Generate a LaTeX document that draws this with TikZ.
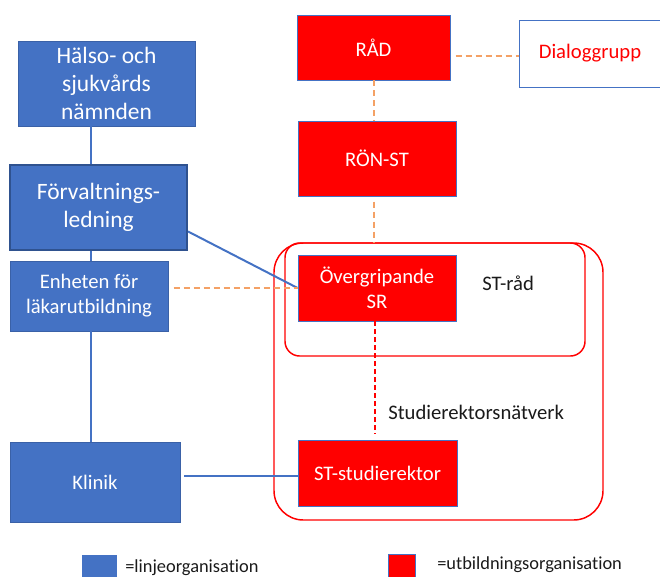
\documentclass[tikz,border=0pt]{standalone}
\usepackage{fontspec}
\setmainfont{Carlito}[Ligatures=NoCommon]
\usepackage{xcolor}
\definecolor{lineblue}{HTML}{4472C4}
\definecolor{darkblue}{HTML}{2F528F}
\definecolor{edured}{HTML}{FF0000}
\definecolor{dashorange}{HTML}{F4A165}
\definecolor{textdark}{HTML}{1A1A1A}
\usepackage{tikz}
\usetikzlibrary{positioning,calc}
\tikzset{
  bbox/.style={rectangle, draw=lineblue!85!black, line width=0.6pt, fill=lineblue,
               text=white, font=\fontsize{15.5}{18.75}\selectfont, align=center, inner sep=0pt},
  bboxl/.style={bbox, font=\fontsize{17.6}{21}\selectfont},
  rbox/.style={rectangle, draw=lineblue, line width=0.6pt, fill=edured,
               text=white, font=\fontsize{15.5}{18.75}\selectfont, align=center, inner sep=0pt},
  wbox/.style={rectangle, draw=lineblue, line width=0.6pt, fill=white,
               text=edured, font=\fontsize{15.5}{18.75}\selectfont, align=center, inner sep=0pt},
  grp/.style={rectangle, draw=edured, line width=1.1pt, inner sep=0pt},
  lline/.style={draw=lineblue, line width=1.5pt},
  odash/.style={draw=dashorange, line width=1.1pt, dash pattern=on 4.5pt off 3pt},
  rdash/.style={draw=edured, line width=1.1pt, dash pattern=on 3.5pt off 2.5pt},
  lbl/.style={font=\fontsize{15.5}{18.75}\selectfont, text=textdark, anchor=base west, inner sep=0pt},
  leg/.style={font=\fontsize{13.8}{16}\selectfont, text=textdark, anchor=base west, inner sep=0pt},
}

\begin{document}
\begin{tikzpicture}[x=0.75pt, y=-0.75pt]
  \useasboundingbox (0,0) rectangle (660,576);

  % Linjeorganisation
  \node[bboxl, minimum width=132.75pt, minimum height=63.75pt] (hsn) at (106.5,83.5) {Hälso- och\\sjukvårds\\nämnden};
  \node[bboxl, minimum width=132.75pt, minimum height=63.75pt, draw=darkblue, line width=1.6pt] (forv) at (98.5,207.5) {Förvaltnings-\\ledning};
  \node[bbox, minimum width=118.5pt, minimum height=52.5pt] (enh) at (89,296) {Enheten för\\läkarutbildning};
  \node[bbox, minimum width=127.5pt, minimum height=60pt] (klin) at (95,482) {Klinik};

  % Groups
  \node[grp, rounded corners=11pt, minimum width=225pt, minimum height=84.75pt] (strad) at (435,299.5) {};
  \node[grp, rounded corners=22pt, minimum width=246.75pt, minimum height=207.75pt] (srn) at (438.5,381.5) {};

  % Utbildningsorganisation
  \node[rbox, minimum width=114.75pt, minimum height=48.75pt] (rad) at (373.5,47.5) {RÅD};
  \node[wbox, minimum width=106.5pt, minimum height=50.25pt] (dlg) at (590,53.5) {Dialoggrupp};
  \node[rbox, minimum width=118.5pt, minimum height=56.25pt] (ron) at (377,158.5) {RÖN-ST};
  \node[rbox, minimum width=118.5pt, minimum height=49.5pt] (ovsr) at (377,288) {Övergripande\\SR};
  \node[rbox, minimum width=119.25pt, minimum height=49.5pt] (strek) at (377.5,473) {ST-studierektor};

  % Line connectors
  \draw[lline] (hsn.south -| 91,0) -- (forv.north -| 91,0);
  \draw[lline] (forv.south -| 91,0) -- (enh.north -| 91,0);
  \draw[lline] (enh.south -| 91,0) -- (klin.north -| 91,0);
  \draw[lline] ([yshift=-18pt]forv.east) -- (ovsr.west);
  \draw[lline] ([xshift=3pt]klin.east |- 0,476) -- (strek.west |- 0,476);

  % Dashed connectors
  \draw[odash] ([xshift=4pt]enh.east |- ovsr.west) -- (ovsr.west);
  \draw[odash] (rad.south -| 374,0) -- (ron.north -| 374,0);
  \draw[odash] ([xshift=4pt]rad.east |- 0,56) -- (dlg.west |- 0,56);
  \draw[odash] ([yshift=-4pt]ron.south -| 374,0) -- (strad.north -| 374,0);
  \draw[rdash] (ovsr.south -| 375,0) -- ([yshift=4pt]strek.north -| 375,0);

  % Labels
  \node[lbl] (stradlbl) at (482,290) {ST-råd};
  \node[lbl] (srnlbl) at (388,419) {Studierektorsnätverk};

  % Legend
  \node[rectangle, fill=lineblue, minimum width=26.25pt, minimum height=19pt, inner sep=0pt, anchor=north west] (legblue) at (82,555) {};
  \node[leg] (legbluetxt) at (125,572) {=linjeorganisation};
  \node[rectangle, fill=edured, draw=lineblue, line width=0.4pt, minimum width=20.25pt, minimum height=19pt, inner sep=0pt, anchor=north west] (legred) at (388,554) {};
  \node[leg] (legredtxt) at (437,569) {=utbildningsorganisation};
\end{tikzpicture}
\end{document}
